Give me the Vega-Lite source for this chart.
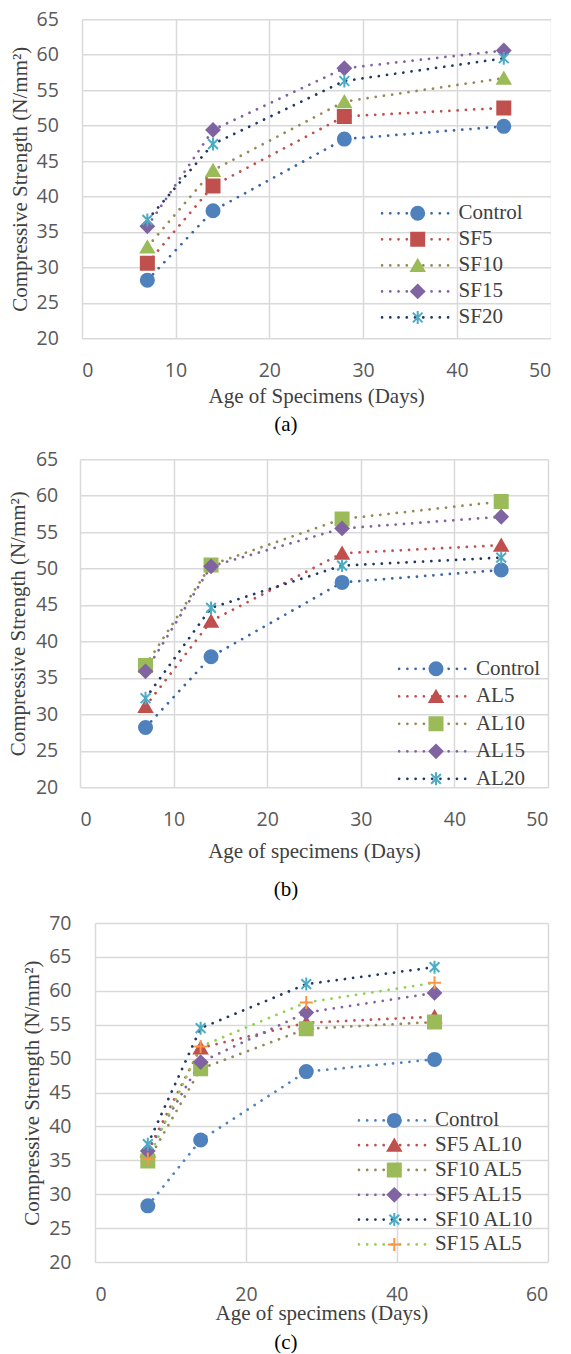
{
  "$schema": "https://vega.github.io/schema/vega-lite/v6.json",
  "padding": {"left": 0, "top": 9.3, "right": 0, "bottom": 0},
  "spacing": 12.9,
  "datasets": {
    "a": [
      {"series": "Control", "day": 7, "strength": 28.2},
      {"series": "Control", "day": 14, "strength": 38.0},
      {"series": "Control", "day": 28, "strength": 48.1},
      {"series": "Control", "day": 45, "strength": 49.9},
      {"series": "SF5", "day": 7, "strength": 30.6},
      {"series": "SF5", "day": 14, "strength": 41.5},
      {"series": "SF5", "day": 28, "strength": 51.3},
      {"series": "SF5", "day": 45, "strength": 52.5},
      {"series": "SF10", "day": 7, "strength": 32.9},
      {"series": "SF10", "day": 14, "strength": 43.7},
      {"series": "SF10", "day": 28, "strength": 53.4},
      {"series": "SF10", "day": 45, "strength": 56.7},
      {"series": "SF15", "day": 7, "strength": 35.8},
      {"series": "SF15", "day": 14, "strength": 49.4},
      {"series": "SF15", "day": 28, "strength": 58.1},
      {"series": "SF15", "day": 45, "strength": 60.6},
      {"series": "SF20", "day": 7, "strength": 36.7},
      {"series": "SF20", "day": 14, "strength": 47.4},
      {"series": "SF20", "day": 28, "strength": 56.3},
      {"series": "SF20", "day": 45, "strength": 59.5}
    ],
    "b": [
      {"series": "Control", "day": 7, "strength": 28.2},
      {"series": "Control", "day": 14, "strength": 37.9},
      {"series": "Control", "day": 28, "strength": 48.1},
      {"series": "Control", "day": 45, "strength": 49.8},
      {"series": "AL5", "day": 7, "strength": 31.1},
      {"series": "AL5", "day": 14, "strength": 42.8},
      {"series": "AL5", "day": 28, "strength": 52.1},
      {"series": "AL5", "day": 45, "strength": 53.2},
      {"series": "AL10", "day": 7, "strength": 36.7},
      {"series": "AL10", "day": 14, "strength": 50.5},
      {"series": "AL10", "day": 28, "strength": 56.8},
      {"series": "AL10", "day": 45, "strength": 59.2},
      {"series": "AL15", "day": 7, "strength": 35.9},
      {"series": "AL15", "day": 14, "strength": 50.3},
      {"series": "AL15", "day": 28, "strength": 55.5},
      {"series": "AL15", "day": 45, "strength": 57.1},
      {"series": "AL20", "day": 7, "strength": 32.2},
      {"series": "AL20", "day": 14, "strength": 44.6},
      {"series": "AL20", "day": 28, "strength": 50.4},
      {"series": "AL20", "day": 45, "strength": 51.5}
    ],
    "c": [
      {"series": "Control", "day": 7, "strength": 28.3},
      {"series": "Control", "day": 14, "strength": 38.0},
      {"series": "Control", "day": 28, "strength": 48.1},
      {"series": "Control", "day": 45, "strength": 49.9},
      {"series": "SF5 AL10", "day": 7, "strength": 36.4},
      {"series": "SF5 AL10", "day": 14, "strength": 51.6},
      {"series": "SF5 AL10", "day": 28, "strength": 55.3},
      {"series": "SF5 AL10", "day": 45, "strength": 56.2},
      {"series": "SF10 AL5", "day": 7, "strength": 34.9},
      {"series": "SF10 AL5", "day": 14, "strength": 48.5},
      {"series": "SF10 AL5", "day": 28, "strength": 54.4},
      {"series": "SF10 AL5", "day": 45, "strength": 55.4},
      {"series": "SF5 AL15", "day": 7, "strength": 36.4},
      {"series": "SF5 AL15", "day": 14, "strength": 49.5},
      {"series": "SF5 AL15", "day": 28, "strength": 56.8},
      {"series": "SF5 AL15", "day": 45, "strength": 59.7},
      {"series": "SF10 AL10", "day": 7, "strength": 37.4},
      {"series": "SF10 AL10", "day": 14, "strength": 54.5},
      {"series": "SF10 AL10", "day": 28, "strength": 61.0},
      {"series": "SF10 AL10", "day": 45, "strength": 63.5},
      {"series": "SF15 AL5", "day": 7, "strength": 35.2},
      {"series": "SF15 AL5", "day": 14, "strength": 51.8},
      {"series": "SF15 AL5", "day": 28, "strength": 58.3},
      {"series": "SF15 AL5", "day": 45, "strength": 61.2}
    ]
  },
  "resolve": {
    "scale": {"color": "independent", "fill": "independent", "stroke": "independent", "shape": "independent"},
    "legend": {"color": "independent", "fill": "independent", "stroke": "independent", "shape": "independent"}
  },
  "vconcat": [
    {
      "width": 470.7,
      "height": 319,
      "title": {"text": "(a)", "orient": "bottom", "offset": 8.3, "frame": "group", "dx": -29.4},
      "data": {"name": "a"},
      "layer": [
        {
          "mark": {"type": "line", "strokeWidth": 2.75, "strokeDash": [0.01, 8.25], "strokeCap": "round"},
          "encoding": {
            "x": {"field": "day", "type": "quantitative", "scale": {"domain": [0, 50], "range": [1.7, 470.7]},
                  "axis": {"values": [0, 10, 20, 30, 40, 50], "tickCount": 50, "labelOverlap": false, "title": "Age of Specimens (Days)", "titleY": 63.9, "titleBaseline": "alphabetic"}},
            "y": {"field": "strength", "type": "quantitative", "scale": {"domain": [20, 65]},
                  "axis": {"values": [20, 25, 30, 35, 40, 45, 50, 55, 60, 65], "tickCount": 50, "labelOverlap": false, "labelPadding": 21.7, "title": "Compressive Strength (N/mm²)", "titleX": -59.7, "titleBaseline": "middle", "minExtent": 80}},
            "color": {"field": "series", "type": "nominal",
                      "scale": {"domain": ["Control", "SF5", "SF10", "SF15", "SF20"], "range": ["#3A66A7", "#C0504D", "#948A54", "#8064A2", "#1F3864"]},
                      "legend": {"title": null, "orient": "none", "legendX": 300.5, "legendY": 183.5, "symbolType": "stroke", "symbolSize": 4624, "symbolStrokeWidth": 2.75, "symbolDash": [0.01, 8.25], "clipHeight": 21, "rowPadding": 4.05, "labelOffset": 7.05, "encoding": {"symbols": {"strokeCap": {"value": "round"}}}}}
          }
        },
        {
          "mark": {"type": "point", "filled": true, "size": 169, "strokeWidth": 2, "opacity": 1},
          "encoding": {
            "x": {"field": "day", "type": "quantitative"},
            "y": {"field": "strength", "type": "quantitative"},
            "fill": {"field": "series", "type": "nominal", "sort": null,
                     "scale": {"range": ["#4F81BD", "#C0504D", "#9BBB59", "#8064A2", "#4BACC6"]},
                     "legend": {"title": null, "orient": "none", "legendX": 327.2, "legendY": 183.5, "symbolSize": 169, "symbolStrokeWidth": 2, "clipHeight": 21, "rowPadding": 4.05, "labelOpacity": 0, "labelExpr": "''"}},
            "stroke": {"field": "series", "type": "nominal", "sort": null,
                       "scale": {"range": ["#4F81BD", "#C0504D", "#9BBB59", "#8064A2", "#4BACC6"]},
                       "legend": {"title": null, "orient": "none", "legendX": 327.2, "legendY": 183.5, "symbolSize": 169, "symbolStrokeWidth": 2, "clipHeight": 21, "rowPadding": 4.05, "labelOpacity": 0, "labelExpr": "''"}},
            "shape": {"field": "series", "type": "nominal", "sort": null,
                      "scale": {"range": ["circle", "square", "triangle-up", "diamond", "M-0.75,-0.75L0.75,0.75M-0.75,0.75L0.75,-0.75M0,-1L0,1"]},
                      "legend": {"title": null, "orient": "none", "legendX": 327.2, "legendY": 183.5, "symbolSize": 169, "symbolStrokeWidth": 2, "clipHeight": 21, "rowPadding": 4.05, "labelOpacity": 0, "labelExpr": "''"}}
          }
        }
      ]
    },
    {
      "width": 468,
      "height": 328,
      "title": {"text": "(b)", "orient": "bottom", "offset": 17.5, "frame": "group", "dx": -28},
      "data": {"name": "b"},
      "layer": [
        {
          "mark": {"type": "line", "strokeWidth": 2.75, "strokeDash": [0.01, 8.25], "strokeCap": "round"},
          "encoding": {
            "x": {"field": "day", "type": "quantitative", "scale": {"domain": [0, 50], "range": [0, 468]},
                  "axis": {"values": [0, 10, 20, 30, 40, 50], "tickCount": 50, "labelOverlap": false, "title": "Age of specimens (Days)", "titleY": 70.5, "titleBaseline": "alphabetic"}},
            "y": {"field": "strength", "type": "quantitative", "scale": {"domain": [20, 65]},
                  "axis": {"values": [20, 25, 30, 35, 40, 45, 50, 55, 60, 65], "tickCount": 50, "labelOverlap": false, "labelPadding": 22.3, "title": "Compressive Strength (N/mm²)", "titleX": -61.5, "titleBaseline": "middle", "minExtent": 80}},
            "color": {"field": "series", "type": "nominal",
                      "scale": {"domain": ["Control", "AL5", "AL10", "AL15", "AL20"], "range": ["#3A66A7", "#C0504D", "#948A54", "#8064A2", "#1F3864"]},
                      "legend": {"title": null, "orient": "none", "legendX": 317.6, "legendY": 199.1, "symbolType": "stroke", "symbolSize": 4624, "symbolStrokeWidth": 2.75, "symbolDash": [0.01, 8.25], "clipHeight": 21, "rowPadding": 5.5, "labelOffset": 7.35, "encoding": {"symbols": {"strokeCap": {"value": "round"}}}}}
          }
        },
        {
          "mark": {"type": "point", "filled": true, "size": 169, "strokeWidth": 2, "opacity": 1},
          "encoding": {
            "x": {"field": "day", "type": "quantitative"},
            "y": {"field": "strength", "type": "quantitative"},
            "fill": {"field": "series", "type": "nominal", "sort": null,
                     "scale": {"range": ["#4F81BD", "#C0504D", "#9BBB59", "#8064A2", "#4BACC6"]},
                     "legend": {"title": null, "orient": "none", "legendX": 345.5, "legendY": 199.1, "symbolSize": 169, "symbolStrokeWidth": 2, "clipHeight": 21, "rowPadding": 5.5, "labelOpacity": 0, "labelExpr": "''"}},
            "stroke": {"field": "series", "type": "nominal", "sort": null,
                       "scale": {"range": ["#4F81BD", "#C0504D", "#9BBB59", "#8064A2", "#4BACC6"]},
                       "legend": {"title": null, "orient": "none", "legendX": 345.5, "legendY": 199.1, "symbolSize": 169, "symbolStrokeWidth": 2, "clipHeight": 21, "rowPadding": 5.5, "labelOpacity": 0, "labelExpr": "''"}},
            "shape": {"field": "series", "type": "nominal", "sort": null,
                      "scale": {"range": ["circle", "triangle-up", "square", "diamond", "M-0.75,-0.75L0.75,0.75M-0.75,0.75L0.75,-0.75M0,-1L0,1"]},
                      "legend": {"title": null, "orient": "none", "legendX": 345.5, "legendY": 199.1, "symbolSize": 169, "symbolStrokeWidth": 2, "clipHeight": 21, "rowPadding": 5.5, "labelOpacity": 0, "labelExpr": "''"}}
          }
        }
      ]
    },
    {
      "width": 467.7,
      "height": 339,
      "title": {"text": "(c)", "orient": "bottom", "offset": 8, "frame": "group", "dx": -27.9},
      "data": {"name": "c"},
      "layer": [
        {
          "mark": {"type": "line", "strokeWidth": 2.75, "strokeDash": [0.01, 8.25], "strokeCap": "round"},
          "encoding": {
            "x": {"field": "day", "type": "quantitative", "scale": {"domain": [0, 60], "range": [15, 467.7]},
                  "axis": {"values": [0, 20, 40, 60], "tickCount": 50, "labelOverlap": false, "title": "Age of specimens (Days)", "titleY": 57.8, "titleBaseline": "alphabetic"}},
            "y": {"field": "strength", "type": "quantitative", "scale": {"domain": [20, 70]},
                  "axis": {"values": [20, 25, 30, 35, 40, 45, 50, 55, 60, 65, 70], "tickCount": 50, "labelOverlap": false, "labelPadding": 9, "title": "Compressive Strength (N/mm²)", "titleX": -47.5, "titleBaseline": "middle", "minExtent": 80}},
            "color": {"field": "series", "type": "nominal",
                      "scale": {"domain": ["Control", "SF5 AL10", "SF10 AL5", "SF5 AL15", "SF10 AL10", "SF15 AL5"], "range": ["#4F81BD", "#C0504D", "#948A54", "#8064A2", "#1F3864", "#92D050"]},
                      "legend": {"title": null, "orient": "none", "legendX": 277.4, "legendY": 186.8, "symbolType": "stroke", "symbolSize": 4624, "symbolStrokeWidth": 2.75, "symbolDash": [0.01, 8.25], "clipHeight": 21, "rowPadding": 2.8, "labelOffset": 6.55, "encoding": {"symbols": {"strokeCap": {"value": "round"}}}}}
          }
        },
        {
          "mark": {"type": "point", "filled": true, "size": 169, "strokeWidth": 2, "opacity": 1},
          "encoding": {
            "x": {"field": "day", "type": "quantitative"},
            "y": {"field": "strength", "type": "quantitative"},
            "fill": {"field": "series", "type": "nominal", "sort": null,
                     "scale": {"range": ["#4F81BD", "#C0504D", "#9BBB59", "#8064A2", "#4BACC6", "#F79646"]},
                     "legend": {"title": null, "orient": "none", "legendX": 303.8, "legendY": 186.8, "symbolSize": 169, "symbolStrokeWidth": 2, "clipHeight": 21, "rowPadding": 2.8, "labelOpacity": 0, "labelExpr": "''"}},
            "stroke": {"field": "series", "type": "nominal", "sort": null,
                       "scale": {"range": ["#4F81BD", "#C0504D", "#9BBB59", "#8064A2", "#4BACC6", "#F79646"]},
                       "legend": {"title": null, "orient": "none", "legendX": 303.8, "legendY": 186.8, "symbolSize": 169, "symbolStrokeWidth": 2, "clipHeight": 21, "rowPadding": 2.8, "labelOpacity": 0, "labelExpr": "''"}},
            "shape": {"field": "series", "type": "nominal", "sort": null,
                      "scale": {"range": ["circle", "triangle-up", "square", "diamond", "M-0.75,-0.75L0.75,0.75M-0.75,0.75L0.75,-0.75M0,-1L0,1", "M-1,0L1,0M0,-1L0,1"]},
                      "legend": {"title": null, "orient": "none", "legendX": 303.8, "legendY": 186.8, "symbolSize": 169, "symbolStrokeWidth": 2, "clipHeight": 21, "rowPadding": 2.8, "labelOpacity": 0, "labelExpr": "''"}}
          }
        }
      ]
    }
  ],
  "config": {
    "view": {"stroke": null},
    "axis": {
      "grid": true, "gridColor": "#D9D9D9", "gridWidth": 1.5, "domain": false, "ticks": false,
      "labelOverlap": false,
      "labelFont": "Open Sans", "labelFontSize": 19.5, "labelColor": "#595959", "labelPadding": 23,
      "titleFont": "Liberation Serif", "titleFontSize": 21, "titleFontWeight": "normal", "titleColor": "#404040"
    },
    "legend": {"labelFont": "Liberation Serif", "labelFontSize": 21, "labelColor": "#404040", "padding": 0},
    "title": {"font": "Liberation Serif", "fontSize": 21, "fontWeight": "normal", "color": "#000000"}
  }
}
